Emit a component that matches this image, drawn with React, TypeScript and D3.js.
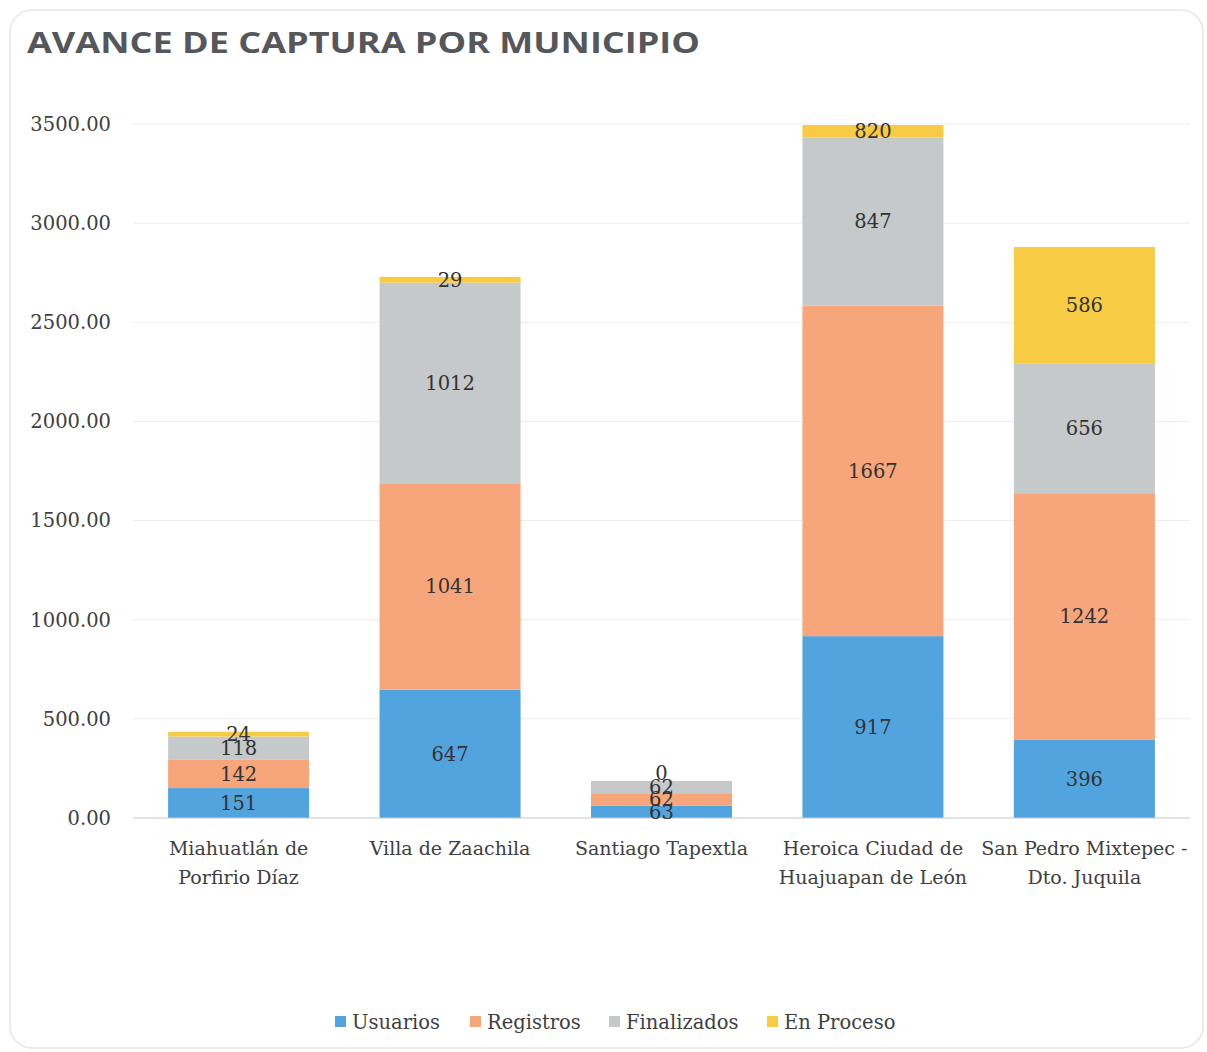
import React from "react";
import * as d3 from "d3";

const categories = [
  ["Miahuatlán de", "Porfirio Díaz"],
  ["Villa de Zaachila"],
  ["Santiago Tapextla"],
  ["Heroica Ciudad de", "Huajuapan de León"],
  ["San Pedro Mixtepec -", "Dto. Juquila"],
];
const seriesNames = ["Usuarios", "Registros", "Finalizados", "En Proceso"];
const usuarios = [151, 647, 63, 917, 396];
const registros = [142, 1041, 62, 1667, 1242];
const finalizados = [118, 1012, 62, 847, 656];
const enProceso = [24, 29, 0, 820, 586];
const yTicks = [0, 500, 1000, 1500, 2000, 2500, 3000, 3500];
const colors = ["#52A4DE", "#F7A67B", "#C6C9CA", "#F8CB45"];

const W = 1207;
const H = 1052;
const left = 133;
const right = 1190;
const top = 124;
const bottom = 818;

export default function App() {
  const keys = categories.map((c) => c.join(" "));
  const x = d3.scaleBand<string>().domain(keys).range([left, right]).paddingInner(0.333).paddingOuter(0.166);
  const y = d3.scaleLinear().domain([0, 3500]).range([bottom, top]);
  const table = keys.map((k, i) => ({
    key: k,
    Usuarios: usuarios[i],
    Registros: registros[i],
    Finalizados: finalizados[i],
    "En Proceso": enProceso[i],
  }));
  const stacked = d3.stack<any>().keys(seriesNames)(table);
  const font = "'DejaVu Serif', serif";
  const legendX = [335, 470, 609, 767];

  return (
    <svg width={W} height={H} style={{ position: "absolute", left: 0, top: 0, background: "#fff" }}>
      <defs>
        <clipPath id="plotClip">
          <rect x={left} y={top + 1} width={right - left} height={bottom - top - 1} />
        </clipPath>
      </defs>
      <rect x={10} y={10} width={1193} height={1038} rx={22} fill="#fff" stroke="#e6e6e6" strokeWidth={1.5} />
      <text x={27} y={53} fontFamily="'Open Sans', sans-serif" fontWeight={700} fontSize={29} fill="#55575a" textLength={673} lengthAdjust="spacingAndGlyphs">
        AVANCE DE CAPTURA POR MUNICIPIO
      </text>
      {yTicks.map((t) => (
        <g key={t}>
          {t > 0 && <line x1={left} x2={right} y1={y(t)} y2={y(t)} stroke="#ececec" strokeWidth={1} />}
          <text x={111} y={y(t)} dy="0.35em" textAnchor="end" fontFamily={font} fontSize={19.5} fill="#404040">
            {t.toFixed(2)}
          </text>
        </g>
      ))}
      <g clipPath="url(#plotClip)">
        {stacked.map((s, si) =>
          s.map((d, i) => (
            <rect
              key={si + "-" + i}
              x={x(keys[i])}
              width={x.bandwidth()}
              y={y(d[1])}
              height={Math.max(0, y(d[0]) - y(d[1]))}
              fill={colors[si]}
            />
          ))
        )}
      </g>
      <line x1={left} x2={right} y1={bottom} y2={bottom} stroke="#c8c8c8" strokeWidth={1.2} />
      {stacked.map((s, si) =>
        s.map((d, i) => {
          const y0 = Math.min(d[0], 3500);
          const y1 = Math.min(d[1], 3500);
          const v = d.data[seriesNames[si]];
          const cy = v === 0 ? y(y1) - 8 : (y(y0) + y(y1)) / 2;
          return (
            <text
              key={"l" + si + "-" + i}
              x={(x(keys[i]) as number) + x.bandwidth() / 2}
              y={cy}
              dy="0.35em"
              textAnchor="middle"
              fontFamily={font}
              fontSize={19.5}
              fill="#333"
            >
              {v}
            </text>
          );
        })
      )}
      {categories.map((c, i) => (
        <text key={"c" + i} textAnchor="middle" fontFamily={font} fontSize={19} fill="#404040">
          {c.map((line, li) => (
            <tspan key={li} x={(x(keys[i]) as number) + x.bandwidth() / 2} y={855 + li * 29}>
              {line}
            </tspan>
          ))}
        </text>
      ))}
      {seriesNames.map((n, i) => (
        <g key={"lg" + n}>
          <rect x={legendX[i]} y={1016} width={11} height={11} fill={colors[i]} />
          <text x={legendX[i] + 17} y={1022} dy="0.35em" fontFamily={font} fontSize={19.5} fill="#404040">
            {n}
          </text>
        </g>
      ))}
    </svg>
  );
}
